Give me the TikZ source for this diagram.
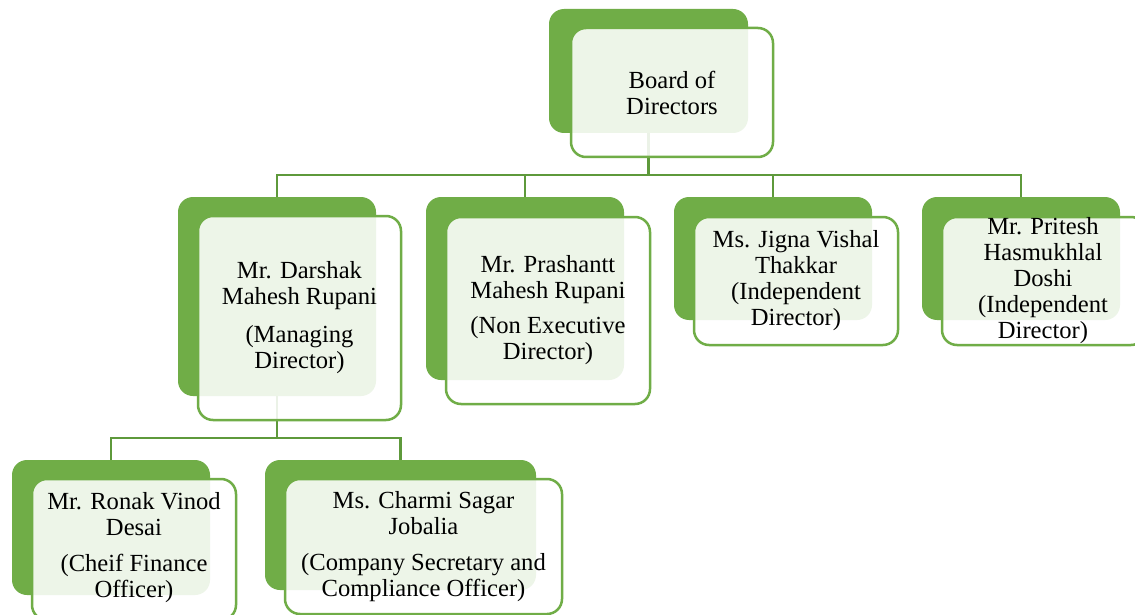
\documentclass[tikz,border=0pt]{standalone}
\usepackage{fontspec}
\setmainfont{Liberation Serif}
\usetikzlibrary{fit,calc}
\definecolor{ogreen}{HTML}{70AD47}
\definecolor{cgreen}{HTML}{5E993B}
\tikzset{
  backbox/.style={fill=ogreen, draw=none, rounded corners=7.5pt, inner sep=0pt},
  frontbox/.style={fill=white, fill opacity=0.88, draw=ogreen, line width=1.25pt, rounded corners=7.5pt, inner sep=0pt},
  label/.style={align=center, inner sep=0pt, text=black, font=\fontsize{12.3}{13}\selectfont},
  conn/.style={draw=cgreen, line width=1.2pt}
}
\begin{document}
\begin{tikzpicture}[x=0.5pt,y=-0.5pt]
\useasboundingbox (0,0) rectangle (1135,615);
\clip (0,0) rectangle (1135,615);
\fill[white] (0,0) rectangle (1135,615);
% back boxes
\node[backbox, fit={(549,9)(748,133)}] (bB) {};
\node[backbox, fit={(178,197)(376,396)}] (bD) {};
\node[backbox, fit={(426,197)(624,380)}] (bP) {};
\node[backbox, fit={(674,197)(872,320)}] (bJ) {};
\node[backbox, fit={(922,197)(1120,320)}] (bH) {};
\node[backbox, fit={(12,460)(210,595)}] (bR) {};
\node[backbox, fit={(265,460)(536,590)}] (bC) {};
% connectors
\coordinate (bus1) at (0,175);
\coordinate (bus2) at (0,438);
\draw[conn] (bB.south) -- (bB.south |- bus1);
\draw[conn] (bD.north) |- (bH.north |- bus1) -- (bH.north);
\draw[conn] (bP.north) -- (bP.north |- bus1);
\draw[conn] (bJ.north) -- (bJ.north |- bus1);
\draw[conn] (bD.south) -- (bD.south |- bus2);
\draw[conn] (bR.north) |- (bC.north |- bus2) -- (bC.north);
% front boxes
\node[frontbox, fit={(571,28)(773,157)}] (fB) {};
\node[frontbox, fit={(198,216)(401,420)}] (fD) {};
\node[frontbox, fit={(446,217)(650,404)}] (fP) {};
\node[frontbox, fit={(694,217)(898,345)}] (fJ) {};
\node[frontbox, fit={(942,217)(1146,345)}] (fH) {};
\node[frontbox, fit={(32,479)(236,620)}] (fR) {};
\node[frontbox, fit={(285,479)(562,614)}] (fC) {};
% texts
\node[label] (tB) at (fB.center) {Board of\\Directors};
\node[label] (tD) at (fD.center) {Mr. Darshak\\Mahesh Rupani\\[6pt](Managing\\Director)};
\node[label] (tP) at (fP.center) {Mr. Prashantt\\Mahesh Rupani\\[4.5pt](Non Executive\\Director)};
\node[label] (tJ) at (fJ.center) {Ms. Jigna Vishal\\Thakkar\\(Independent\\Director)};
\node[label] (tH) at ($(fH.center)+(-1,0)$) {Mr. Pritesh\\Hasmukhlal\\Doshi\\(Independent\\Director)};
\node[label] (tR) at ($(fR.center)+(0,-2)$) {Mr. Ronak Vinod\\Desai\\[5pt](Cheif Finance\\Officer)};
\node[label] (tC) at ($(fC.center)+(0,0)$) {Ms. Charmi Sagar\\Jobalia\\[5pt](Company Secretary and\\Compliance Officer)};
\end{tikzpicture}
\end{document}
